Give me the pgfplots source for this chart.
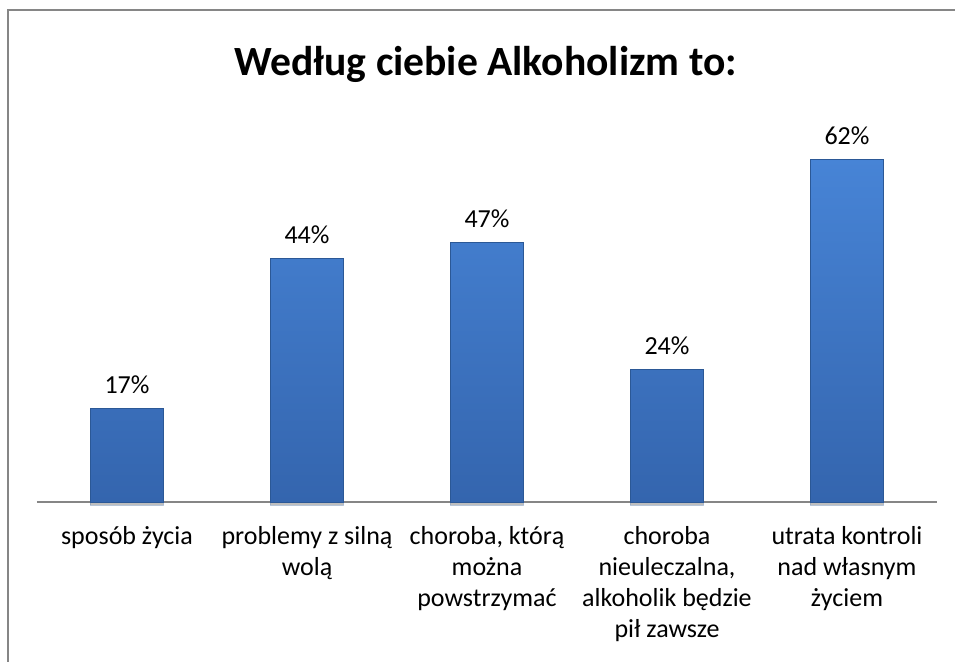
\documentclass[border=0pt]{standalone}
\usepackage{fontspec}
\setmainfont{Carlito}
\usepackage{pgfplots}
\pgfplotsset{compat=1.18}
\usetikzlibrary{shadows}
\definecolor{bartop}{HTML}{4784D6}
\definecolor{barbot}{HTML}{3465AE}
\definecolor{baredge}{HTML}{2B5896}
\definecolor{framegray}{HTML}{868686}

\begin{document}
\begin{tikzpicture}
% 1 px of the reference = 0.5pt
\path[use as bounding box] (0,0) rectangle (477.5pt,-330.5pt);
\draw[framegray,line width=1pt] (4pt,-331pt) -- (4pt,-5pt) -- (478pt,-5pt);
\node[anchor=base,font=\fontsize{20.8}{25}\selectfont\bfseries]
  at (242.75pt,-37.5pt) {Według ciebie Alkoholizm to:};
\begin{axis}[
  at={(18.5pt,-251pt)},
  anchor=south west,
  scale only axis,
  width=450pt,
  height=193.55pt,
  xmin=-0.5, xmax=4.5,
  ymin=0, ymax=70,
  axis y line=none,
  axis x line*=bottom,
  x axis line style={framegray,line width=1pt},
  xtick={0,1,2,3,4},
  major tick length=0pt,
  xticklabels={
    {sposób życia},
    {problemy z silną\\wolą},
    {choroba, którą\\można\\powstrzymać},
    {choroba\\nieuleczalna,\\alkoholik będzie\\pił zawsze},
    {utrata kontroli\\nad własnym\\życiem}},
  xticklabel style={align=center,anchor=north,yshift=-8.5pt,
    font=\fontsize{13}{15.5}\selectfont},
  ybar,
  bar width=36.5pt,
  nodes near coords={\pgfmathprintnumber[assume math mode=true]{\pgfplotspointmeta}\%},
  every node near coord/.append style={anchor=base,yshift=7.5pt,
    font=\fontsize{13}{15.5}\selectfont},
  clip=false
]
\addplot[draw=baredge,line width=0.4pt,top color=bartop,bottom color=barbot,
  drop shadow={shadow xshift=0pt,shadow yshift=-1.5pt,opacity=0.3,
    top color=gray,bottom color=gray}]
  coordinates {(0,17) (1,44) (2,47) (3,24) (4,62)};
\end{axis}
\end{tikzpicture}
\end{document}
